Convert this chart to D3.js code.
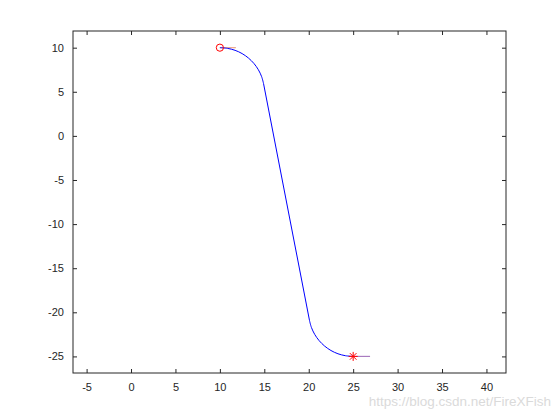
<!DOCTYPE html>
<html>
<head>
<meta charset="utf-8">
<script src="https://cdn.jsdelivr.net/npm/d3@7"></script>
<style>
  body { margin: 0; background: #fff; }
  text { font-family: "Liberation Sans", Arial, sans-serif; }
</style>
</head>
<body>
<div id="chart"></div>
<script>
// path points (x, y)
var arc1X = [10, 10.87, 11.71, 12.5, 13.21, 13.83, 14.33, 14.70, 14.91];
var arc1Y = [10, 9.92, 9.70, 9.33, 8.83, 8.21, 7.5, 6.71, 5.95];
var arc2X = [20.09, 20.30, 20.67, 21.17, 21.79, 22.5, 23.29, 24.13, 25];
var arc2Y = [-20.95, -21.71, -22.5, -23.21, -23.83, -24.33, -24.70, -24.92, -25];

var startPt = [10, 10];
var endPt = [25, -25];
var startHeading = [[10, 10], [11.8, 10]];
var endHeading = [[25, -25], [26.9, -25]];

var xTicks = [-5, 0, 5, 10, 15, 20, 25, 30, 35, 40];
var yTicks = [-25, -20, -15, -10, -5, 0, 5, 10];
var xDomain = [-6.53, 42.2];
var yDomain = [-26.88, 11.89];

var svgWidth = 560, svgHeight = 420;
var margin = { top: 31, right: 54, bottom: 47, left: 73 };
var width = svgWidth - margin.left - margin.right;
var height = svgHeight - margin.top - margin.bottom;

var svg = d3.select("#chart")
  .append("svg")
  .attr("width", svgWidth)
  .attr("height", svgHeight);

var chartGroup = svg.append("g")
  .attr("transform", `translate(${margin.left}, ${margin.top})`);

var x = d3.scaleLinear().domain(xDomain).range([0, width]);
var y = d3.scaleLinear().domain(yDomain).range([height, 0]);

// axes, MATLAB style: ticks inside, box on
var axColor = "#262626";
var plainFmt = function(d) { return String(d); };  // keep ascii hyphen
function styleAxis(g) {
  g.select(".domain").remove();
  g.selectAll("line").attr("stroke", axColor);
  g.selectAll("text").attr("fill", axColor).attr("font-size", 11);
}

chartGroup.append("g")
  .attr("transform", `translate(0, ${height})`)
  .call(d3.axisBottom(x).tickValues(xTicks).tickSize(-4).tickPadding(10).tickFormat(plainFmt))
  .call(styleAxis);

chartGroup.append("g")
  .call(d3.axisTop(x).tickValues(xTicks).tickSize(-4).tickFormat(""))
  .call(styleAxis);

chartGroup.append("g")
  .call(d3.axisLeft(y).tickValues(yTicks).tickSize(-4).tickPadding(9).tickFormat(plainFmt))
  .call(styleAxis);

chartGroup.append("g")
  .attr("transform", `translate(${width}, 0)`)
  .call(d3.axisRight(y).tickValues(yTicks).tickSize(-4).tickFormat(""))
  .call(styleAxis);

chartGroup.append("rect")
  .attr("width", width)
  .attr("height", height)
  .attr("fill", "none")
  .attr("stroke", axColor)
  .attr("stroke-width", 1);

var line = d3.line()
  .x(function(d) { return x(d[0]); })
  .y(function(d) { return y(d[1]); });

// heading lines
chartGroup.append("path")
  .attr("d", line(startHeading))
  .attr("stroke", "#eea68a")
  .attr("stroke-width", 1.2)
  .attr("fill", "none");

chartGroup.append("path")
  .attr("d", line(endHeading))
  .attr("stroke", "#a97cc0")
  .attr("stroke-width", 1.2)
  .attr("fill", "none");

// path: arc, straight segment, arc
var smooth = d3.line()
  .x(function(d) { return x(d[0]); })
  .y(function(d) { return y(d[1]); })
  .curve(d3.curveCatmullRom);

var p1 = d3.zip(arc1X, arc1Y);
var p2 = d3.zip(arc2X, arc2Y);
chartGroup.append("path")
  .attr("d", smooth(p1))
  .attr("stroke", "#0000ff").attr("fill", "none");
chartGroup.append("path")
  .attr("d", line([p1[p1.length - 1], p2[0]]))
  .attr("stroke", "#0000ff").attr("fill", "none");
chartGroup.append("path")
  .attr("d", smooth(p2))
  .attr("stroke", "#0000ff").attr("fill", "none");

// start marker
chartGroup.append("circle")
  .attr("cx", x(startPt[0]))
  .attr("cy", y(startPt[1]))
  .attr("r", 3.6)
  .attr("fill", "none")
  .attr("stroke", "#ff0000");

// end marker: asterisk
var ex = x(endPt[0]), ey = y(endPt[1]), s = 4.5, d = 3.3;
var star = chartGroup.append("g").attr("stroke", "#ff0000").attr("stroke-width", 1);
star.append("line").attr("x1", ex - s).attr("x2", ex + s).attr("y1", ey).attr("y2", ey);
star.append("line").attr("x1", ex).attr("x2", ex).attr("y1", ey - s).attr("y2", ey + s);
star.append("line").attr("x1", ex - d).attr("x2", ex + d).attr("y1", ey - d).attr("y2", ey + d);
star.append("line").attr("x1", ex - d).attr("x2", ex + d).attr("y1", ey + d).attr("y2", ey - d);

// watermark
svg.append("text")
  .attr("x", 551)
  .attr("y", 406)
  .attr("text-anchor", "end")
  .attr("font-size", 13.5)
  .attr("fill", "#dadada")
  .text("https://blog.csdn.net/FireXFish");
</script>
</body>
</html>
